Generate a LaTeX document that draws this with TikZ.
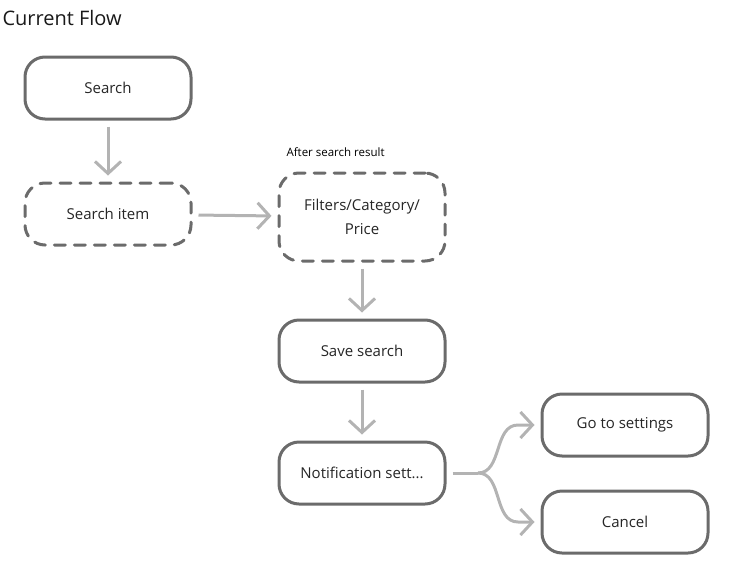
\documentclass[tikz,border=0pt]{standalone}
\usepackage{fontspec}
\setmainfont{Open Sans}
\usetikzlibrary{arrows.meta}
\tikzset{%
  >={Straight Barb[length=12pt,width=26pt]}, % open arrow head
  step box/.style={draw=boxgray,line width=3pt,rounded corners=20pt,fill=white,
    minimum width=166pt,minimum height=62pt,align=center,
    font=\fontsize{15}{24}\selectfont,text=black!85},%
  dashed box/.style={step box,dash pattern=on 11pt off 9pt,line cap=round},%
  flow/.style={draw=flowgray,line width=3pt,->,shorten >=6pt,shorten <=6pt}%
}
\definecolor{boxgray}{HTML}{6B6B6B}
\definecolor{flowgray}{HTML}{B3B3B3}

\begin{document}
\begin{tikzpicture}[x=1pt,y=-1pt]

%% canvas

\useasboundingbox (0,0) rectangle (743,570);

%% title and note

\node[anchor=west,font=\fontsize{20}{24}\selectfont,text=black!90] (title) at (-1,18)
    {Current Flow};
\node[anchor=west,font=\fontsize{11.5}{14}\selectfont] (note) at (283,152)
    {After search result};

%% boxes

\node[step box] (search) at (108,88) {Search};
\node[dashed box] (item) at (108,214) {Search item};
\node[dashed box,minimum height=88pt] (filters) at (362,217)
    {Filters/Category/\\Price};
\node[step box] (save) at (362,351) {Save search};
\node[step box] (notif) at (362,473) {Notification sett...};
\node[step box] (settings) at (625,425) {Go to settings};
\node[step box] (cancel) at (625,522) {Cancel};

%% connectors

\draw[flow] (search) -- (item);
\draw[flow] (item) -- (filters);
\draw[flow] (filters) -- (save);
\draw[flow] (save) -- (notif);
\coordinate (fork) at (478,473);
\coordinate (goIn) at (518,425);
\coordinate (cancelIn) at (518,522);
\draw[flow,-,shorten >=0pt] (notif) -- (fork);
\draw[flow,shorten <=0pt] (fork) to[out=0,in=180] (goIn) -- (settings.west);
\draw[flow,shorten <=0pt] (fork) to[out=0,in=180] (cancelIn) -- (cancel.west);

\end{tikzpicture}
\end{document}
